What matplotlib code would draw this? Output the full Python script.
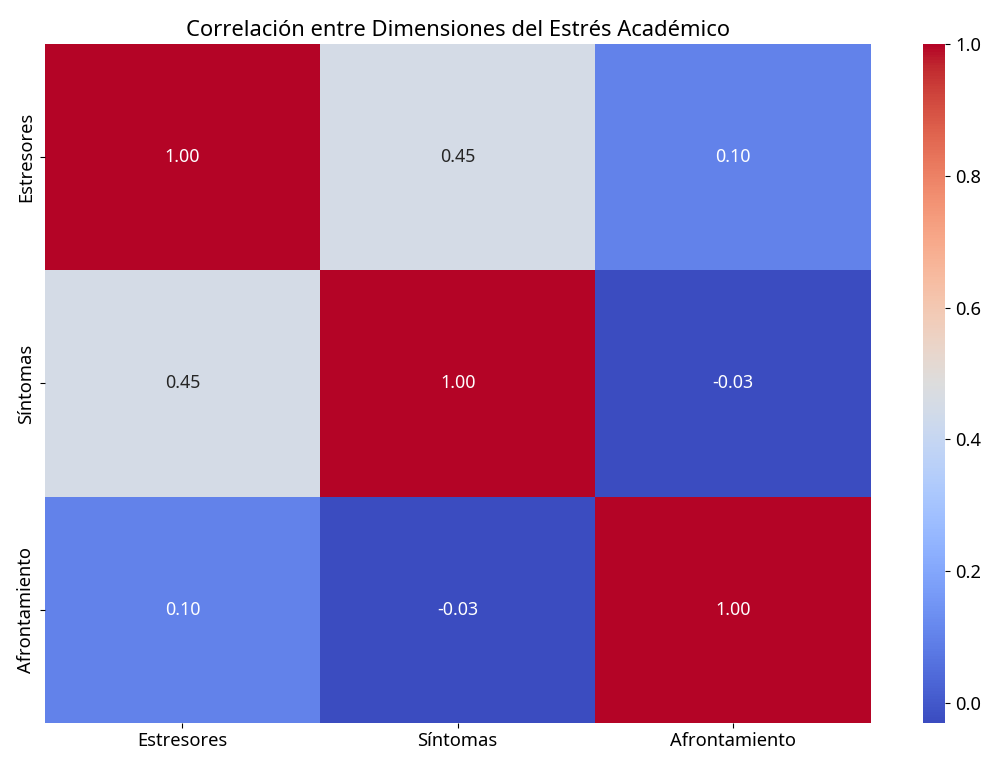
import matplotlib

matplotlib.use("Agg")
import matplotlib.pyplot as plt
import numpy as np
import seaborn as sns

plt.rcParams["font.family"] = ["Noto Sans", "DejaVu Sans"]

LABELS = ["Estresores", "Síntomas", "Afrontamiento"]
ROW_ESTRESORES = [1.00, 0.45, 0.10]
ROW_SINTOMAS = [0.45, 1.00, -0.03]
ROW_AFRONTAMIENTO = [0.10, -0.03, 1.00]
TITLE = "Correlación entre Dimensiones del Estrés Académico"

corr = np.array([ROW_ESTRESORES, ROW_SINTOMAS, ROW_AFRONTAMIENTO])

fig = plt.figure(figsize=(9.96, 7.6), dpi=100)
ax = fig.add_axes([0.045, 0.049, 0.829, 0.893])
cax = fig.add_axes([0.927, 0.049, 0.022, 0.893])

sns.heatmap(
    corr,
    annot=True,
    fmt=".2f",
    cmap="coolwarm",
    xticklabels=LABELS,
    yticklabels=LABELS,
    ax=ax,
    cbar_ax=cax,
    annot_kws={"fontsize": 12.8},
)
ax.set_title(TITLE, fontsize=15.8)
ax.tick_params(labelsize=13.2)
cax.tick_params(labelsize=13.2)
cax.set_yticks([0.0, 0.2, 0.4, 0.6, 0.8, 1.0])

plt.savefig("out.png", dpi=100)
